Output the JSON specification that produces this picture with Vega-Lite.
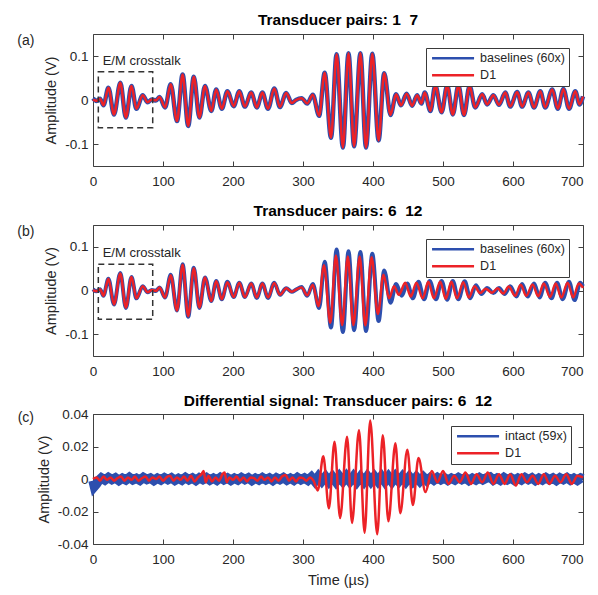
{
  "$schema": "https://vega.github.io/schema/vega-lite/v6.json",
  "padding": {"left": 16, "top": 12, "right": 10, "bottom": 8},
  "config": {
    "font": "Liberation Sans",
    "view": {"stroke": "#404040", "strokeWidth": 1},
    "axis": {"domain": false, "grid": false, "tickColor": "#404040", "tickSize": -5, "labelFontSize": 13.5, "labelColor": "#262626", "titleFontSize": 14.5, "titleFontWeight": "normal", "titleColor": "#262626", "labelFont": "Liberation Sans", "titleFont": "Liberation Sans"},
    "axisX": {"labelPadding": 13, "titlePadding": 8},
    "axisY": {"labelPadding": 10, "titlePadding": 6},
    "title": {"fontSize": 15.5, "fontWeight": "bold", "color": "#000000", "frame": "group", "offset": 5, "font": "Liberation Sans"},
    "legend": {"symbolType": "M-1,0H9", "symbolSize": 70.6, "symbolStrokeWidth": 2.5, "labelFontSize": 12.5, "labelColor": "#262626", "strokeColor": "#3a3a3a", "fillColor": "#ffffff", "padding": 4, "labelOffset": 37.6, "rowPadding": 4, "title": null}
  },
  "datasets": {
    "a": [
      {"t": 0, "base": 0.004, "d1": 0.001}, {"t": 5, "base": -0.002, "d1": -0.002}, {"t": 10, "base": 0.003, "d1": 0.003},
      {"t": 15, "base": -0.012, "d1": -0.012}, {"t": 22, "base": 0.028, "d1": 0.028}, {"t": 30, "base": -0.033, "d1": -0.033},
      {"t": 39, "base": 0.039, "d1": 0.039}, {"t": 47, "base": -0.04, "d1": -0.04}, {"t": 55, "base": 0.032, "d1": 0.032},
      {"t": 62, "base": -0.02, "d1": -0.02}, {"t": 71, "base": 0.011, "d1": 0.011}, {"t": 78, "base": -0.005, "d1": -0.005},
      {"t": 84, "base": 0.001, "d1": 0.001}, {"t": 90, "base": -0.001, "d1": -0.001}, {"t": 95, "base": 0.007, "d1": 0.007},
      {"t": 103, "base": -0.017, "d1": -0.017}, {"t": 111, "base": 0.036, "d1": 0.036}, {"t": 120, "base": -0.048, "d1": -0.048},
      {"t": 128, "base": 0.058, "d1": 0.058}, {"t": 136, "base": -0.059, "d1": -0.059}, {"t": 144, "base": 0.053, "d1": 0.053},
      {"t": 152, "base": -0.04, "d1": -0.04}, {"t": 160, "base": 0.032, "d1": 0.032}, {"t": 169, "base": -0.025, "d1": -0.025},
      {"t": 176, "base": 0.024, "d1": 0.024}, {"t": 184, "base": -0.02, "d1": -0.02}, {"t": 192, "base": 0.02, "d1": 0.02},
      {"t": 201, "base": -0.014, "d1": -0.014}, {"t": 209, "base": 0.02, "d1": 0.02}, {"t": 217, "base": -0.015, "d1": -0.015},
      {"t": 226, "base": 0.017, "d1": 0.017}, {"t": 234, "base": -0.017, "d1": -0.017}, {"t": 242, "base": 0.017, "d1": 0.017},
      {"t": 250, "base": -0.02, "d1": -0.02}, {"t": 259, "base": 0.026, "d1": 0.026}, {"t": 267, "base": -0.016, "d1": -0.016},
      {"t": 276, "base": 0.016, "d1": 0.016}, {"t": 284, "base": -0.007, "d1": -0.007}, {"t": 290, "base": 0.0, "d1": 0.0},
      {"t": 298, "base": 0.004, "d1": 0.004}, {"t": 306, "base": -0.008, "d1": -0.008}, {"t": 314, "base": 0.012, "d1": 0.012},
      {"t": 323, "base": -0.036, "d1": -0.036}, {"t": 331, "base": 0.062, "d1": 0.062}, {"t": 340, "base": -0.086, "d1": -0.086},
      {"t": 348, "base": 0.104, "d1": 0.104}, {"t": 357, "base": -0.108, "d1": -0.108}, {"t": 365, "base": 0.106, "d1": 0.106},
      {"t": 373, "base": -0.105, "d1": -0.105}, {"t": 382, "base": 0.106, "d1": 0.106}, {"t": 390, "base": -0.108, "d1": -0.108},
      {"t": 399, "base": 0.105, "d1": 0.105}, {"t": 408, "base": -0.092, "d1": -0.092}, {"t": 416, "base": 0.061, "d1": 0.061},
      {"t": 425, "base": -0.034, "d1": -0.034}, {"t": 433, "base": 0.013, "d1": 0.013}, {"t": 440, "base": -0.012, "d1": -0.012},
      {"t": 448, "base": 0.014, "d1": 0.014}, {"t": 456, "base": -0.013, "d1": -0.013}, {"t": 463, "base": 0.011, "d1": 0.011},
      {"t": 469, "base": -0.008, "d1": -0.008}, {"t": 474, "base": 0.017, "d1": 0.017}, {"t": 482, "base": -0.025, "d1": -0.025},
      {"t": 489, "base": 0.033, "d1": 0.033}, {"t": 498, "base": -0.028, "d1": -0.028}, {"t": 506, "base": 0.033, "d1": 0.033},
      {"t": 514, "base": -0.033, "d1": -0.033}, {"t": 522, "base": 0.033, "d1": 0.033}, {"t": 530, "base": -0.034, "d1": -0.034},
      {"t": 538, "base": 0.032, "d1": 0.032}, {"t": 546, "base": -0.017, "d1": -0.017}, {"t": 556, "base": 0.013, "d1": 0.013},
      {"t": 563, "base": -0.01, "d1": -0.01}, {"t": 572, "base": 0.011, "d1": 0.011}, {"t": 580, "base": -0.011, "d1": -0.011},
      {"t": 589, "base": 0.017, "d1": 0.017}, {"t": 596, "base": -0.015, "d1": -0.015}, {"t": 606, "base": 0.018, "d1": 0.018},
      {"t": 613, "base": -0.015, "d1": -0.015}, {"t": 622, "base": 0.017, "d1": 0.017}, {"t": 630, "base": -0.017, "d1": -0.017},
      {"t": 639, "base": 0.02, "d1": 0.02}, {"t": 646, "base": -0.017, "d1": -0.017}, {"t": 656, "base": 0.024, "d1": 0.024},
      {"t": 664, "base": -0.02, "d1": -0.02}, {"t": 672, "base": 0.025, "d1": 0.025}, {"t": 680, "base": -0.02, "d1": -0.02},
      {"t": 689, "base": 0.02, "d1": 0.02}, {"t": 695, "base": -0.01, "d1": -0.01}, {"t": 700, "base": 0.008, "d1": 0.008}
    ],
    "b_base": [
      {"t": 0, "v": 0.003}, {"t": 5, "v": -0.002}, {"t": 10, "v": 0.003}, {"t": 15, "v": -0.012}, {"t": 22, "v": 0.027},
      {"t": 30, "v": -0.032}, {"t": 39, "v": 0.04}, {"t": 47, "v": -0.04}, {"t": 55, "v": 0.031}, {"t": 62, "v": -0.018},
      {"t": 71, "v": 0.01}, {"t": 78, "v": -0.004}, {"t": 84, "v": 0.001}, {"t": 90, "v": -0.001}, {"t": 95, "v": 0.007},
      {"t": 103, "v": -0.016}, {"t": 111, "v": 0.036}, {"t": 120, "v": -0.046}, {"t": 128, "v": 0.06}, {"t": 136, "v": -0.06},
      {"t": 144, "v": 0.052}, {"t": 152, "v": -0.04}, {"t": 160, "v": 0.03}, {"t": 169, "v": -0.024}, {"t": 176, "v": 0.022},
      {"t": 184, "v": -0.02}, {"t": 192, "v": 0.02}, {"t": 201, "v": -0.015}, {"t": 209, "v": 0.018}, {"t": 217, "v": -0.015},
      {"t": 226, "v": 0.016}, {"t": 234, "v": -0.017}, {"t": 242, "v": 0.016}, {"t": 250, "v": -0.017}, {"t": 259, "v": 0.018},
      {"t": 267, "v": -0.01}, {"t": 276, "v": 0.005}, {"t": 284, "v": -0.003}, {"t": 290, "v": 0.002}, {"t": 298, "v": 0.008},
      {"t": 306, "v": -0.012}, {"t": 314, "v": 0.015}, {"t": 323, "v": -0.04}, {"t": 331, "v": 0.066}, {"t": 340, "v": -0.085},
      {"t": 348, "v": 0.094}, {"t": 357, "v": -0.095}, {"t": 365, "v": 0.09}, {"t": 373, "v": -0.091}, {"t": 382, "v": 0.088},
      {"t": 390, "v": -0.093}, {"t": 399, "v": 0.084}, {"t": 408, "v": -0.07}, {"t": 416, "v": 0.046}, {"t": 425, "v": -0.028},
      {"t": 433, "v": 0.015}, {"t": 441, "v": -0.012}, {"t": 449, "v": 0.016}, {"t": 457, "v": -0.018}, {"t": 465, "v": 0.02},
      {"t": 473, "v": -0.02}, {"t": 481, "v": 0.022}, {"t": 490, "v": -0.02}, {"t": 498, "v": 0.022}, {"t": 506, "v": -0.021},
      {"t": 514, "v": 0.022}, {"t": 522, "v": -0.02}, {"t": 531, "v": 0.021}, {"t": 539, "v": -0.018}, {"t": 547, "v": 0.012},
      {"t": 555, "v": -0.008}, {"t": 563, "v": 0.006}, {"t": 572, "v": -0.006}, {"t": 580, "v": 0.006}, {"t": 588, "v": -0.008},
      {"t": 596, "v": 0.01}, {"t": 605, "v": -0.014}, {"t": 613, "v": 0.015}, {"t": 621, "v": -0.014}, {"t": 630, "v": 0.016},
      {"t": 638, "v": -0.016}, {"t": 646, "v": 0.018}, {"t": 655, "v": -0.018}, {"t": 663, "v": 0.018}, {"t": 671, "v": -0.02},
      {"t": 680, "v": 0.02}, {"t": 688, "v": -0.022}, {"t": 696, "v": 0.018}, {"t": 700, "v": 0.01}
    ],
    "b_d1": [
      {"t": 0, "v": 0.001}, {"t": 5, "v": -0.002}, {"t": 10, "v": 0.003}, {"t": 15, "v": -0.012}, {"t": 22, "v": 0.027},
      {"t": 30, "v": -0.032}, {"t": 39, "v": 0.039}, {"t": 47, "v": -0.039}, {"t": 55, "v": 0.031}, {"t": 62, "v": -0.018},
      {"t": 71, "v": 0.01}, {"t": 78, "v": -0.004}, {"t": 84, "v": 0.001}, {"t": 90, "v": -0.001}, {"t": 95, "v": 0.007},
      {"t": 103, "v": -0.016}, {"t": 111, "v": 0.035}, {"t": 120, "v": -0.046}, {"t": 128, "v": 0.059}, {"t": 136, "v": -0.059},
      {"t": 144, "v": 0.051}, {"t": 152, "v": -0.039}, {"t": 160, "v": 0.03}, {"t": 169, "v": -0.024}, {"t": 176, "v": 0.022},
      {"t": 184, "v": -0.02}, {"t": 192, "v": 0.019}, {"t": 201, "v": -0.015}, {"t": 209, "v": 0.018}, {"t": 217, "v": -0.015},
      {"t": 226, "v": 0.016}, {"t": 234, "v": -0.016}, {"t": 242, "v": 0.016}, {"t": 250, "v": -0.016}, {"t": 259, "v": 0.017},
      {"t": 267, "v": -0.01}, {"t": 276, "v": 0.005}, {"t": 284, "v": -0.003}, {"t": 290, "v": 0.002}, {"t": 298, "v": 0.007},
      {"t": 306, "v": -0.011}, {"t": 314, "v": 0.013}, {"t": 322, "v": -0.036}, {"t": 330, "v": 0.058}, {"t": 339, "v": -0.074},
      {"t": 347, "v": 0.08}, {"t": 356, "v": -0.079}, {"t": 364, "v": 0.078}, {"t": 372, "v": -0.079}, {"t": 381, "v": 0.078},
      {"t": 389, "v": -0.08}, {"t": 398, "v": 0.076}, {"t": 407, "v": -0.054}, {"t": 415, "v": 0.036}, {"t": 423, "v": -0.018},
      {"t": 430, "v": 0.01}, {"t": 437, "v": -0.01}, {"t": 446, "v": 0.018}, {"t": 454, "v": -0.014}, {"t": 462, "v": 0.018},
      {"t": 471, "v": -0.018}, {"t": 479, "v": 0.02}, {"t": 487, "v": -0.018}, {"t": 496, "v": 0.02}, {"t": 504, "v": -0.019},
      {"t": 512, "v": 0.02}, {"t": 520, "v": -0.018}, {"t": 529, "v": 0.019}, {"t": 537, "v": -0.016}, {"t": 545, "v": 0.01},
      {"t": 553, "v": -0.006}, {"t": 561, "v": 0.004}, {"t": 570, "v": -0.005}, {"t": 578, "v": 0.005}, {"t": 586, "v": -0.007},
      {"t": 594, "v": 0.009}, {"t": 603, "v": -0.012}, {"t": 611, "v": 0.013}, {"t": 619, "v": -0.012}, {"t": 628, "v": 0.014},
      {"t": 636, "v": -0.013}, {"t": 644, "v": 0.016}, {"t": 653, "v": -0.015}, {"t": 661, "v": 0.016}, {"t": 669, "v": -0.016},
      {"t": 678, "v": 0.018}, {"t": 686, "v": -0.016}, {"t": 694, "v": 0.016}, {"t": 700, "v": 0.006}
    ],
    "c_intact": [
      {"t": 0, "v": -0.001}, {"t": 2, "v": -0.0045}, {"t": 5, "v": -0.003}, {"t": 8, "v": -0.001}, {"t": 12, "v": 0.0006},
      {"t": 17, "v": -0.0007}, {"t": 22, "v": 0.0009}, {"t": 27, "v": -0.0004}, {"t": 32, "v": 0.0007}, {"t": 37, "v": -0.0009},
      {"t": 42, "v": 0.0005}, {"t": 47, "v": -0.0006}, {"t": 52, "v": 0.001}, {"t": 57, "v": -0.0005}, {"t": 62, "v": 0.0004},
      {"t": 67, "v": -0.0008}, {"t": 72, "v": 0.0009}, {"t": 77, "v": -0.0003}, {"t": 82, "v": 0.0006}, {"t": 87, "v": -0.0009},
      {"t": 92, "v": 0.0005}, {"t": 97, "v": -0.0006}, {"t": 102, "v": 0.0008}, {"t": 107, "v": -0.0004}, {"t": 112, "v": 0.0007},
      {"t": 117, "v": -0.0008}, {"t": 122, "v": 0.0004}, {"t": 127, "v": -0.0007}, {"t": 132, "v": 0.0009}, {"t": 137, "v": -0.0005},
      {"t": 142, "v": 0.0006}, {"t": 147, "v": -0.0009}, {"t": 152, "v": 0.0007}, {"t": 157, "v": -0.0004}, {"t": 162, "v": 0.0008},
      {"t": 167, "v": -0.0007}, {"t": 172, "v": 0.0005}, {"t": 177, "v": -0.0008}, {"t": 182, "v": 0.0009}, {"t": 187, "v": -0.0005},
      {"t": 192, "v": 0.0006}, {"t": 197, "v": -0.0008}, {"t": 202, "v": 0.0005}, {"t": 207, "v": -0.0006}, {"t": 212, "v": 0.0009},
      {"t": 217, "v": -0.0004}, {"t": 222, "v": 0.0007}, {"t": 227, "v": -0.0009}, {"t": 232, "v": 0.0005}, {"t": 237, "v": -0.0006},
      {"t": 242, "v": 0.0008}, {"t": 247, "v": -0.0005}, {"t": 252, "v": 0.0006}, {"t": 257, "v": -0.0009}, {"t": 262, "v": 0.0007},
      {"t": 267, "v": -0.0004}, {"t": 272, "v": 0.0008}, {"t": 277, "v": -0.0007}, {"t": 282, "v": 0.0005}, {"t": 287, "v": -0.0008},
      {"t": 292, "v": 0.0009}, {"t": 297, "v": -0.0005}, {"t": 302, "v": 0.0006}, {"t": 307, "v": -0.0008}, {"t": 312, "v": 0.0012},
      {"t": 317, "v": -0.0014}, {"t": 322, "v": 0.0015}, {"t": 327, "v": -0.0012}, {"t": 332, "v": 0.0014}, {"t": 337, "v": -0.0015},
      {"t": 342, "v": 0.0013}, {"t": 347, "v": -0.0016}, {"t": 352, "v": 0.0015}, {"t": 357, "v": -0.0013}, {"t": 362, "v": 0.0016},
      {"t": 367, "v": -0.0014}, {"t": 372, "v": 0.0015}, {"t": 377, "v": -0.0016}, {"t": 382, "v": 0.0013}, {"t": 387, "v": -0.0015},
      {"t": 392, "v": 0.0016}, {"t": 397, "v": -0.0014}, {"t": 402, "v": 0.0015}, {"t": 407, "v": -0.0013}, {"t": 412, "v": 0.0016},
      {"t": 417, "v": -0.0015}, {"t": 422, "v": 0.0014}, {"t": 427, "v": -0.0016}, {"t": 432, "v": 0.0015}, {"t": 437, "v": -0.0013},
      {"t": 442, "v": 0.0014}, {"t": 447, "v": -0.0015}, {"t": 452, "v": 0.0013}, {"t": 457, "v": -0.0014}, {"t": 462, "v": 0.0012},
      {"t": 467, "v": -0.0013}, {"t": 472, "v": 0.0011}, {"t": 477, "v": -0.001}, {"t": 482, "v": 0.0008}, {"t": 487, "v": -0.0007},
      {"t": 492, "v": 0.0009}, {"t": 497, "v": -0.0005}, {"t": 502, "v": 0.0007}, {"t": 507, "v": -0.0008}, {"t": 512, "v": 0.0005},
      {"t": 517, "v": -0.0006}, {"t": 522, "v": 0.0009}, {"t": 527, "v": -0.0004}, {"t": 532, "v": 0.0007}, {"t": 537, "v": -0.0009},
      {"t": 542, "v": 0.0005}, {"t": 547, "v": -0.0006}, {"t": 552, "v": 0.0008}, {"t": 557, "v": -0.0005}, {"t": 562, "v": 0.0006},
      {"t": 567, "v": 0.0012}, {"t": 572, "v": -0.0007}, {"t": 577, "v": 0.0005}, {"t": 582, "v": -0.0008}, {"t": 587, "v": 0.0009},
      {"t": 592, "v": -0.0005}, {"t": 597, "v": 0.0006}, {"t": 602, "v": -0.0008}, {"t": 607, "v": 0.0005}, {"t": 612, "v": -0.0006},
      {"t": 617, "v": 0.0009}, {"t": 622, "v": -0.0004}, {"t": 627, "v": 0.0007}, {"t": 632, "v": -0.0009}, {"t": 637, "v": 0.0005},
      {"t": 642, "v": -0.0006}, {"t": 647, "v": 0.0008}, {"t": 652, "v": -0.0005}, {"t": 657, "v": 0.0006}, {"t": 662, "v": -0.0009},
      {"t": 667, "v": 0.0007}, {"t": 672, "v": -0.0004}, {"t": 677, "v": 0.0008}, {"t": 682, "v": -0.0007}, {"t": 687, "v": 0.0005},
      {"t": 692, "v": -0.0008}, {"t": 697, "v": 0.0006}, {"t": 700, "v": 0.0002}
    ],
    "c_d1": [
      {"t": 0, "v": 0.0}, {"t": 5, "v": 0.001}, {"t": 10, "v": -0.001}, {"t": 15, "v": 0.0015}, {"t": 20, "v": -0.0005},
      {"t": 25, "v": 0.001}, {"t": 30, "v": -0.001}, {"t": 35, "v": 0.0005}, {"t": 40, "v": 0.0015}, {"t": 45, "v": -0.001},
      {"t": 50, "v": 0.001}, {"t": 55, "v": -0.0005}, {"t": 60, "v": 0.0015}, {"t": 65, "v": -0.001}, {"t": 70, "v": 0.0005},
      {"t": 75, "v": 0.0015}, {"t": 80, "v": -0.001}, {"t": 85, "v": 0.001}, {"t": 90, "v": 0.0}, {"t": 95, "v": 0.0015},
      {"t": 100, "v": -0.001}, {"t": 105, "v": 0.001}, {"t": 110, "v": 0.002}, {"t": 115, "v": -0.001}, {"t": 120, "v": 0.001},
      {"t": 125, "v": -0.0005}, {"t": 130, "v": 0.0015}, {"t": 135, "v": -0.001}, {"t": 140, "v": 0.002}, {"t": 145, "v": -0.0015},
      {"t": 150, "v": 0.001}, {"t": 155, "v": 0.003}, {"t": 158, "v": 0.005}, {"t": 161, "v": -0.002}, {"t": 165, "v": 0.002},
      {"t": 170, "v": -0.0015}, {"t": 175, "v": 0.001}, {"t": 180, "v": -0.001}, {"t": 185, "v": 0.003}, {"t": 188, "v": 0.004},
      {"t": 191, "v": -0.002}, {"t": 195, "v": 0.001}, {"t": 200, "v": -0.0005}, {"t": 205, "v": 0.0015}, {"t": 210, "v": -0.001},
      {"t": 215, "v": 0.001}, {"t": 220, "v": -0.0015}, {"t": 225, "v": 0.001}, {"t": 230, "v": 0.0005}, {"t": 235, "v": -0.001},
      {"t": 240, "v": 0.0015}, {"t": 245, "v": -0.0005}, {"t": 250, "v": 0.001}, {"t": 255, "v": -0.0015}, {"t": 260, "v": 0.001},
      {"t": 265, "v": -0.001}, {"t": 270, "v": 0.0015}, {"t": 275, "v": 0.0025}, {"t": 280, "v": -0.001}, {"t": 285, "v": 0.001},
      {"t": 290, "v": -0.0015}, {"t": 295, "v": 0.001}, {"t": 300, "v": 0.0005}, {"t": 305, "v": -0.001}, {"t": 310, "v": 0.001},
      {"t": 315, "v": -0.001}, {"t": 321, "v": -0.007}, {"t": 329, "v": 0.014}, {"t": 337, "v": -0.018}, {"t": 345, "v": 0.023},
      {"t": 353, "v": -0.024}, {"t": 363, "v": 0.026}, {"t": 370, "v": -0.027}, {"t": 380, "v": 0.03}, {"t": 388, "v": -0.033},
      {"t": 396, "v": 0.036}, {"t": 406, "v": -0.034}, {"t": 414, "v": 0.027}, {"t": 422, "v": -0.026}, {"t": 432, "v": 0.022},
      {"t": 439, "v": -0.021}, {"t": 449, "v": 0.018}, {"t": 457, "v": -0.016}, {"t": 465, "v": 0.013}, {"t": 475, "v": -0.008},
      {"t": 484, "v": 0.005}, {"t": 492, "v": -0.002}, {"t": 500, "v": 0.005}, {"t": 508, "v": -0.003}, {"t": 516, "v": 0.002},
      {"t": 524, "v": -0.002}, {"t": 532, "v": 0.004}, {"t": 540, "v": -0.003}, {"t": 548, "v": 0.003}, {"t": 556, "v": -0.002},
      {"t": 564, "v": 0.004}, {"t": 572, "v": -0.003}, {"t": 580, "v": 0.003}, {"t": 588, "v": -0.003}, {"t": 596, "v": 0.003},
      {"t": 604, "v": -0.004}, {"t": 612, "v": 0.003}, {"t": 620, "v": -0.002}, {"t": 628, "v": 0.002}, {"t": 636, "v": -0.003},
      {"t": 644, "v": 0.003}, {"t": 652, "v": -0.003}, {"t": 660, "v": 0.002}, {"t": 668, "v": -0.002}, {"t": 676, "v": 0.003},
      {"t": 684, "v": -0.003}, {"t": 692, "v": 0.002}, {"t": 700, "v": 0.001}
    ]
  },
  "spacing": 15,
  "resolve": {"scale": {"x": "independent", "y": "independent", "color": "independent"}, "legend": {"color": "independent"}},
  "vconcat": [
    {
      "width": 490, "height": 132,
      "title": {"text": "Transducer pairs: 1\u00a0\u00a07"},
      "resolve": {"axis": {"x": "independent", "y": "independent"}},
      "layer": [
        {
          "data": {"name": "a"},
          "mark": {"type": "line", "strokeWidth": 4.5, "interpolate": "monotone"},
          "encoding": {
            "x": {"field": "t", "type": "quantitative", "scale": {"domain": [0, 700], "nice": false}, "axis": {"title": null, "values": [0, 100, 200, 300, 400, 500, 600, 700], "format": "d", "labelAlign": {"condition": {"test": "datum.value == 700", "value": "right"}, "value": "center"}}},
            "y": {"field": "base", "type": "quantitative", "scale": {"domain": [-0.15, 0.15], "nice": false}, "axis": {"title": "Amplitude (V)", "values": [-0.1, 0, 0.1], "format": "~g", "labelExpr": "replace(datum.label, '\u2212', '-')"}},
            "color": {"datum": "baselines (60x)", "type": "nominal", "scale": {"domain": ["baselines (60x)", "D1"], "range": ["#2d4fae", "#ec2227"]}, "legend": {"orient": "top-right", "offset": 14}}
          }
        },
        {
          "data": {"name": "a"},
          "mark": {"type": "line", "strokeWidth": 2.5, "interpolate": "monotone"},
          "encoding": {
            "x": {"field": "t", "type": "quantitative", "axis": {"orient": "top", "labels": false, "title": null, "values": [0, 100, 200, 300, 400, 500, 600, 700]}},
            "y": {"field": "d1", "type": "quantitative", "axis": {"orient": "right", "labels": false, "title": null, "values": [-0.1, 0, 0.1]}},
            "color": {"datum": "D1", "type": "nominal"}
          }
        },
        {
          "data": {"values": [{"note": "E/M crosstalk"}]},
          "mark": {"type": "rect", "filled": false, "stroke": "#333333", "strokeWidth": 1.5, "strokeDash": [6, 4]},
          "encoding": {
            "x": {"datum": 7.6, "type": "quantitative", "axis": null}, "x2": {"datum": 85.3},
            "y": {"datum": 0.0644, "type": "quantitative", "axis": null}, "y2": {"datum": -0.063}
          }
        },
        {
          "data": {"values": [{"note": "E/M crosstalk"}]},
          "mark": {"type": "text", "align": "left", "baseline": "middle", "fontSize": 13, "color": "#262626"},
          "encoding": {
            "x": {"datum": 13.8, "type": "quantitative", "axis": null},
            "y": {"datum": 0.0886, "type": "quantitative", "axis": null},
            "text": {"field": "note"}
          }
        },
        {
          "data": {"values": [{"panel": "(a)"}]},
          "mark": {"type": "text", "align": "center", "baseline": "middle", "fontSize": 14, "color": "#262626"},
          "encoding": {
            "x": {"datum": -96, "type": "quantitative", "axis": null},
            "y": {"datum": 0.134, "type": "quantitative", "axis": null},
            "text": {"field": "panel"}
          }
        }
      ]
    },
    {
      "width": 490, "height": 131,
      "title": {"text": "Transducer pairs: 6\u00a0\u00a012"},
      "resolve": {"axis": {"x": "independent", "y": "independent"}},
      "layer": [
        {
          "data": {"name": "b_base"},
          "mark": {"type": "line", "strokeWidth": 4, "interpolate": "monotone"},
          "encoding": {
            "x": {"field": "t", "type": "quantitative", "scale": {"domain": [0, 700], "nice": false}, "axis": {"title": null, "values": [0, 100, 200, 300, 400, 500, 600, 700], "format": "d", "labelAlign": {"condition": {"test": "datum.value == 700", "value": "right"}, "value": "center"}}},
            "y": {"field": "v", "type": "quantitative", "scale": {"domain": [-0.15, 0.15], "nice": false}, "axis": {"title": "Amplitude (V)", "values": [-0.1, 0, 0.1], "format": "~g", "labelExpr": "replace(datum.label, '\u2212', '-')"}},
            "color": {"datum": "baselines (60x)", "type": "nominal", "scale": {"domain": ["baselines (60x)", "D1"], "range": ["#2d4fae", "#ec2227"]}, "legend": {"orient": "top-right", "offset": 14}}
          }
        },
        {
          "data": {"name": "b_d1"},
          "mark": {"type": "line", "strokeWidth": 2.5, "interpolate": "monotone"},
          "encoding": {
            "x": {"field": "t", "type": "quantitative", "axis": {"orient": "top", "labels": false, "title": null, "values": [0, 100, 200, 300, 400, 500, 600, 700]}},
            "y": {"field": "v", "type": "quantitative", "axis": {"orient": "right", "labels": false, "title": null, "values": [-0.1, 0, 0.1]}},
            "color": {"datum": "D1", "type": "nominal"}
          }
        },
        {
          "data": {"values": [{"note": "E/M crosstalk"}]},
          "mark": {"type": "rect", "filled": false, "stroke": "#333333", "strokeWidth": 1.5, "strokeDash": [6, 4]},
          "encoding": {
            "x": {"datum": 7.6, "type": "quantitative", "axis": null}, "x2": {"datum": 85.3},
            "y": {"datum": 0.06, "type": "quantitative", "axis": null}, "y2": {"datum": -0.066}
          }
        },
        {
          "data": {"values": [{"note": "E/M crosstalk"}]},
          "mark": {"type": "text", "align": "left", "baseline": "middle", "fontSize": 13, "color": "#262626"},
          "encoding": {
            "x": {"datum": 13.8, "type": "quantitative", "axis": null},
            "y": {"datum": 0.087, "type": "quantitative", "axis": null},
            "text": {"field": "note"}
          }
        },
        {
          "data": {"values": [{"panel": "(b)"}]},
          "mark": {"type": "text", "align": "center", "baseline": "middle", "fontSize": 14, "color": "#262626"},
          "encoding": {
            "x": {"datum": -96, "type": "quantitative", "axis": null},
            "y": {"datum": 0.135, "type": "quantitative", "axis": null},
            "text": {"field": "panel"}
          }
        }
      ]
    },
    {
      "width": 490, "height": 130,
      "title": {"text": "Differential signal: Transducer pairs: 6\u00a0\u00a012", "offset": -2},
      "resolve": {"axis": {"x": "independent", "y": "independent"}},
      "layer": [
        {
          "data": {"name": "c_intact"},
          "mark": {"type": "line", "strokeWidth": 9.5, "interpolate": "linear"},
          "encoding": {
            "x": {"field": "t", "type": "quantitative", "scale": {"domain": [0, 700], "nice": false}, "axis": {"title": "Time (µs)", "values": [0, 100, 200, 300, 400, 500, 600, 700], "format": "d", "labelAlign": {"condition": {"test": "datum.value == 700", "value": "right"}, "value": "center"}}},
            "y": {"field": "v", "type": "quantitative", "scale": {"domain": [-0.04, 0.04], "nice": false}, "axis": {"title": "Amplitude (V)", "values": [-0.04, -0.02, 0, 0.02, 0.04], "format": "~g", "labelExpr": "replace(datum.label, '\u2212', '-')"}},
            "color": {"datum": "intact (59x)", "type": "nominal", "scale": {"domain": ["intact (59x)", "D1"], "range": ["#2d4fae", "#ec2227"]}, "legend": {"orient": "top-right", "offset": 12}}
          }
        },
        {
          "data": {"name": "c_d1"},
          "mark": {"type": "line", "strokeWidth": 2.5, "interpolate": "monotone"},
          "encoding": {
            "x": {"field": "t", "type": "quantitative", "axis": {"orient": "top", "labels": false, "title": null, "values": [0, 100, 200, 300, 400, 500, 600, 700]}},
            "y": {"field": "v", "type": "quantitative", "axis": {"orient": "right", "labels": false, "title": null, "values": [-0.04, -0.02, 0, 0.02, 0.04]}},
            "color": {"datum": "D1", "type": "nominal"}
          }
        },
        {
          "data": {"values": [{"panel": "(c)"}]},
          "mark": {"type": "text", "align": "center", "baseline": "middle", "fontSize": 14, "color": "#262626"},
          "encoding": {
            "x": {"datum": -96, "type": "quantitative", "axis": null},
            "y": {"datum": 0.0377, "type": "quantitative", "axis": null},
            "text": {"field": "panel"}
          }
        }
      ]
    }
  ]
}
